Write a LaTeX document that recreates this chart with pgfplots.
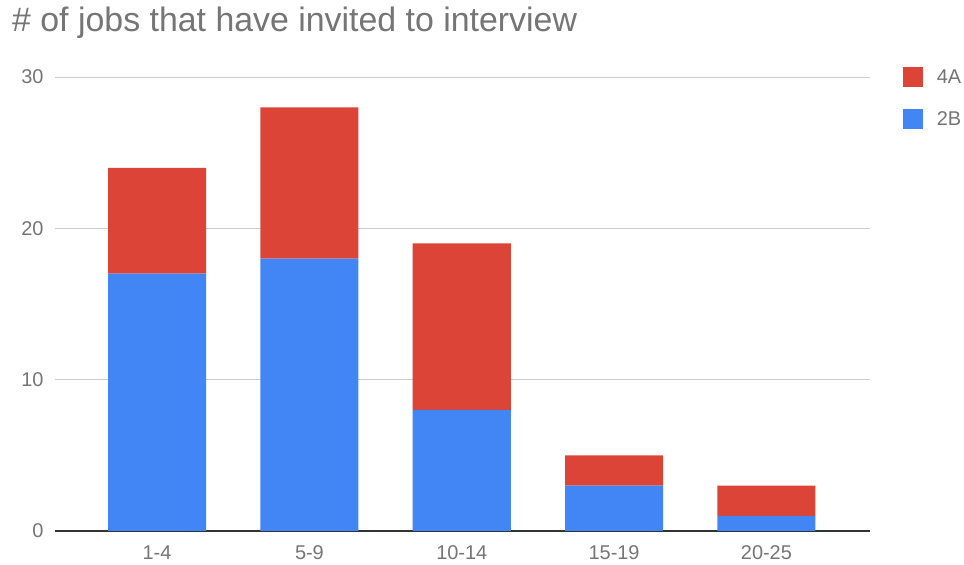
\documentclass[border=0pt]{standalone}
\usepackage{pgfplots}
\pgfplotsset{compat=1.18}
\usepackage{fontspec}
\setmainfont{Liberation Sans}

\definecolor{gRed}{HTML}{DB4437}
\definecolor{gBlue}{HTML}{4285F4}
\definecolor{txtGrey}{HTML}{757575}
\definecolor{gridGrey}{HTML}{CCCCCC}

\begin{document}
\begin{tikzpicture}[x=1bp,y=1bp]
\path[use as bounding box] (-55,-34) rectangle (909,531);
\node[anchor=north west, text=txtGrey, font=\fontsize{34}{38}\selectfont, inner sep=0pt]
  at (-43,524) {\# of jobs that have invited to interview};
\begin{axis}[
    at={(0,0)}, anchor=south west,
    scale only axis,
    width=815bp, height=454bp,
    ybar stacked,
    bar width=98bp,
    ymin=0, ymax=30,
    xmin=-0.67, xmax=4.68,
    ytick={0,10,20,30},
    xtick=data,
    xticklabels={1-4,5-9,10-14,15-19,20-25},
    axis x line*=bottom,
    axis y line*=left,
    y axis line style={draw=none},
    x axis line style={color=black!80, line width=1.2pt},
    ymajorgrids,
    grid style={gridGrey, line width=0.8pt},
    major tick length=0pt,
    tick label style={text=txtGrey, font=\fontsize{20}{24}\selectfont},
    /pgf/number format/assume math mode=true,
    xticklabel style={yshift=-11bp},
    yticklabel style={xshift=-8bp},
    legend style={draw=none, at={(1.04,1.022)}, anchor=north west,
      font=\fontsize{20}{24}\selectfont, text=txtGrey,
      row sep=22bp, inner sep=0pt,
      nodes={inner xsep=14bp}},
    legend cell align=left,
    reverse legend,
    legend image code/.code={\fill[#1] (0bp,-10bp) rectangle (20bp,10bp);},
]
\addplot[fill=gBlue, draw=none] coordinates {(0,17) (1,18) (2,8) (3,3) (4,1)};
\addlegendentry{2B}
\addplot[fill=gRed, draw=none] coordinates {(0,7) (1,10) (2,11) (3,2) (4,2)};
\addlegendentry{4A}
\end{axis}
\end{tikzpicture}
\end{document}
